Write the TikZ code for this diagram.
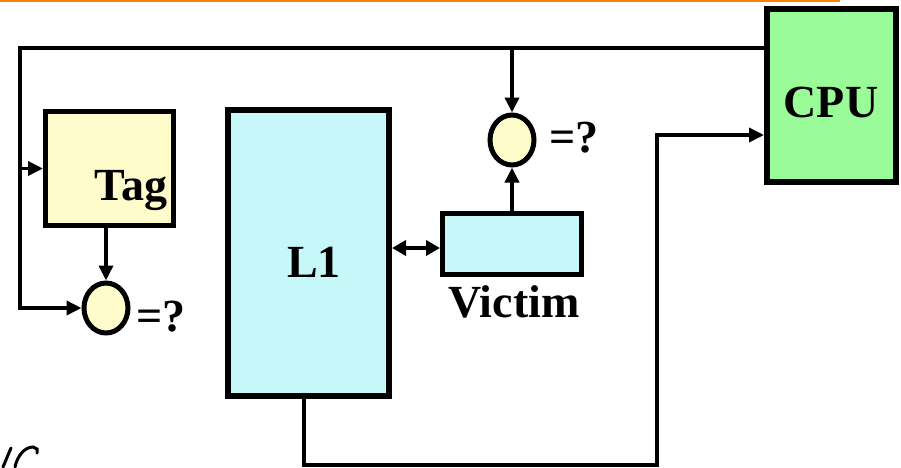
\documentclass[tikz,border=0pt]{standalone}
\usepackage{fontspec}
\setmainfont{Liberation Serif}
\usetikzlibrary{arrows.meta,shapes.geometric}
\definecolor{cpugreen}{RGB}{153,252,153}
\definecolor{cachecyan}{RGB}{198,248,250}
\definecolor{cmpyellow}{RGB}{255,252,204}
\definecolor{topline}{RGB}{255,128,0}
\tikzset{
  blk/.style={draw=black, rectangle, inner sep=0pt},
  cmpnode/.style={draw=black, ellipse, line width=5pt, fill=cmpyellow, minimum width=44pt, minimum height=50pt, inner sep=0pt},
  wire/.style={line width=3.5pt, line join=miter},
  tip/.style={-{Triangle[length=15pt,width=14pt]}},
  lbl/.style={font=\bfseries\fontsize{46}{50}\selectfont, inner sep=0pt, anchor=base},
  eq/.style={font=\bfseries\fontsize{46}{50}\selectfont, inner sep=0pt, anchor=base west}
}
\begin{document}
\begin{tikzpicture}[x=1pt,y=-1pt]
\useasboundingbox (0,0) rectangle (901,467);
% orange rule at top
\draw[topline, line width=2pt] (0,1) -- (840,1);
% boxes
\node[blk, line width=6pt, fill=cpugreen, minimum width=129pt, minimum height=173pt] (cpu) at (831.5,95.5) {};
\node[blk, line width=5pt, fill=cmpyellow, minimum width=128pt, minimum height=114pt] (tag) at (109.5,168.5) {};
\node[blk, line width=6pt, fill=cachecyan, minimum width=161pt, minimum height=286pt] (l1) at (308.5,253) {};
\node[blk, line width=5pt, fill=cachecyan, minimum width=139pt, minimum height=61pt] (victim) at (512,244) {};
\node[cmpnode] (cmpA) at (106,308) {};
\node[cmpnode] (cmpB) at (512,140) {};
% labels
\node[lbl] (cpulbl) at (831,117) {CPU};
\node[lbl] (taglbl) at (131,200) {Tag};
\node[lbl] (l1lbl) at (314,277) {L1};
\node[lbl] (viclbl) at (514,317) {Victim};
\node[eq] (eqA) at (136,331) {=?};
\node[eq] (eqB) at (549,152) {=?};
% connectors
\coordinate (tl) at (20,48);
\draw[wire, tip] (cpu.west |- tl) -- (tl) -- (tl |- cmpA) -- (cmpA.west);
\draw[wire, tip] (tl |- tag.west) -- (tag.west);
\draw[wire, tip] (tl -| cmpB) -- (cmpB.north);
\draw[wire, tip] (cmpA |- tag.south) -- (cmpA.north);
\draw[wire, tip] (victim.north) -- (cmpB.south);
\draw[line width=3.5pt, {Triangle[length=14pt,width=15pt]}-{Triangle[length=14pt,width=15pt]}] (l1.east |- 0,248) -- (victim.west |- 0,248);
\coordinate (b1) at (304,465);
\coordinate (b2) at (657,135);
\draw[wire, tip] (l1.south -| b1) -- (b1) -- (b1 -| b2) -- (b2) -- (cpu.west |- b2);
% handwritten mark, bottom left
\draw[line width=3pt, line cap=round] (3,467) -- (11,448);
\draw[line width=3pt, line cap=round] (15,467) .. controls (17,457) and (24,447) .. (33,447) -- (37,449) -- (37,453);
\end{tikzpicture}
\end{document}
